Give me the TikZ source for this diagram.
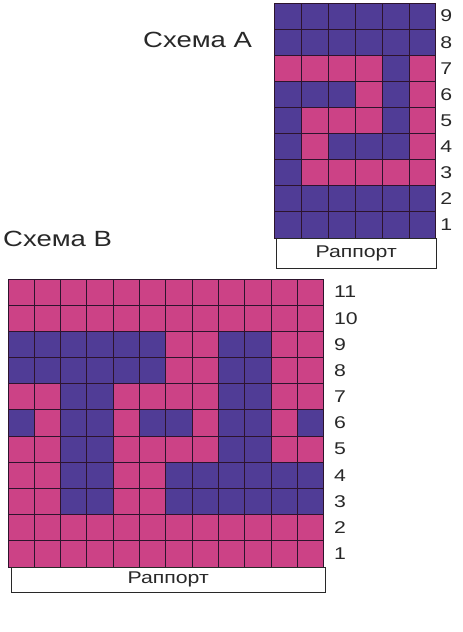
\documentclass[tikz,border=0pt]{standalone}
\usepackage{fontspec}
\usepackage{graphicx}
\setmainfont{Liberation Sans}
\definecolor{knitP}{RGB}{204,66,134}
\definecolor{knitB}{RGB}{80,60,150}
\definecolor{gridline}{RGB}{45,20,45}
\definecolor{ink}{RGB}{40,40,40}
\newcommand{\wide}[1]{\scalebox{1.25}[1]{#1}}

\begin{document}
\begin{tikzpicture}[x=1pt,y=-1pt,
    title/.style={inner sep=0pt,text=ink,font=\fontsize{22}{26}\selectfont},
    rownum/.style={inner sep=0pt,anchor=west,text=ink,font=\fontsize{17}{20}\selectfont},
    rapport/.style={draw=ink,line width=0.6pt,inner sep=0pt,anchor=north west,
                    text=ink,font=\fontsize{17}{20}\selectfont},
    gridlines/.style={draw=gridline,line width=1pt,step=1}]
  \useasboundingbox (0,0) rectangle (463,632);

  % scheme A, 6 x 9
  \node[title,anchor=base west] (titleA) at (143,47) {\wide{Схема А}};
  \begin{scope}[shift={(274,238)},x=27pt,y=26.11pt]
    \foreach \r/\pat in {1/{B,B,B,B,B,B},2/{B,B,B,B,B,B},3/{B,P,P,P,P,P},
                         4/{B,P,B,B,B,P},5/{B,P,P,P,B,P},6/{B,B,B,P,B,P},
                         7/{P,P,P,P,B,P},8/{B,B,B,B,B,B},9/{B,B,B,B,B,B}}
      \foreach \c [count=\i] in \pat
        \fill[knit\c] (\i-1,\r-1) rectangle (\i,\r);
    \draw[gridlines] (0,0) grid (6,9);
    \foreach \r in {1,...,9}
      \node[rownum] (numA\r) at (6.15,\r-0.5) {\wide{\r}};
    \node[rapport,minimum width=160pt,minimum height=30pt] (rapA) at (0.07,0) {\wide{Раппорт}};
  \end{scope}

  % scheme B, 12 x 11
  \node[title,anchor=base west] (titleB) at (3,246) {\wide{Схема В}};
  \begin{scope}[shift={(8,567)},x=26.33pt,y=26.18pt]
    \foreach \r/\pat in {1/{P,P,P,P,P,P,P,P,P,P,P,P},2/{P,P,P,P,P,P,P,P,P,P,P,P},
                         3/{P,P,B,B,P,P,B,B,B,B,B,B},4/{P,P,B,B,P,P,B,B,B,B,B,B},
                         5/{P,P,B,B,P,P,P,P,B,B,P,P},6/{B,P,B,B,P,B,B,P,B,B,P,B},
                         7/{P,P,B,B,P,P,P,P,B,B,P,P},8/{B,B,B,B,B,B,P,P,B,B,P,P},
                         9/{B,B,B,B,B,B,P,P,B,B,P,P},10/{P,P,P,P,P,P,P,P,P,P,P,P},
                         11/{P,P,P,P,P,P,P,P,P,P,P,P}}
      \foreach \c [count=\i] in \pat
        \fill[knit\c] (\i-1,\r-1) rectangle (\i,\r);
    \draw[gridlines] (0,0) grid (12,11);
    \foreach \r in {1,...,11}
      \node[rownum] (numB\r) at (12.38,\r-0.5) {\wide{\r}};
    \node[rapport,minimum width=314pt,minimum height=25pt] (rapB) at (0.11,0) {\wide{Раппорт}};
  \end{scope}
\end{tikzpicture}
\end{document}
